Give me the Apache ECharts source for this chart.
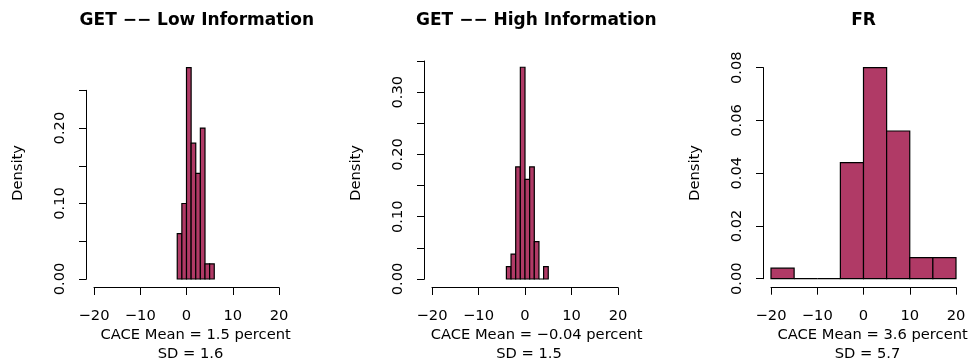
<!DOCTYPE html>
<html>
<head>
<meta charset="utf-8">
<script src="https://cdn.jsdelivr.net/npm/echarts@6/dist/echarts.min.js"></script>
<style>
html,body{margin:0;padding:0;background:#fff;}
#chart{width:970px;height:364px;}
</style>
</head>
<body>
<div id="chart"></div>
<script>
// ---- Data ----
const titles = ["GET \u2212\u2212 Low Information", "GET \u2212\u2212 High Information", "FR"];
const xlabLine1 = ["CACE Mean = 1.5 percent", "CACE Mean = \u22120.04 percent", "CACE Mean = 3.6 percent"];
const xlabLine2 = ["SD = 1.6", "SD = 1.5", "SD = 5.7"];
const ylab = "Density";
// bin edges and densities
const edgesLow = [-2, -1, 0, 1, 2, 3, 4, 5, 6];
const densLow = [0.06, 0.10, 0.28, 0.18, 0.14, 0.20, 0.02, 0.02];
const edgesHigh = [-4, -3, -2, -1, 0, 1, 2, 3, 4, 5];
const densHigh = [0.02, 0.04, 0.18, 0.34, 0.16, 0.18, 0.06, 0.00, 0.02];
const edgesFR = [-20, -15, -10, -5, 0, 5, 10, 15, 20];
const densFR = [0.004, 0.000, 0.000, 0.044, 0.080, 0.056, 0.008, 0.008];
const xMin = -20, xMax = 20, xStep = 10;
const yMaxTicks = [0.25, 0.35, 0.08];
const yIntervals = [0.05, 0.05, 0.02];
const yLabelEvery = [0.10, 0.10, 0.02];

// ---- Layout / style ----
const FONT = "'DejaVu Sans', sans-serif";
const METRIC_FONT = "'Liberation Sans', Arial, sans-serif";
const BAR = "#B03A66";
const FS = 14.7;
const grids = [
  {left: 94, width: 185, top: 90.3, height: 188.7},
  {left: 432, width: 186, top: 61, height: 218},
  {left: 771, width: 185, top: 67.7, height: 211}
];

const ctx = document.createElement('canvas').getContext('2d');
function metricWidth(text, font) { ctx.font = font; return ctx.measureText(text).width; }

function binData(edges, dens) {
  return dens.map((d, i) => [edges[i], edges[i + 1], d]);
}
const datasets = [binData(edgesLow, densLow), binData(edgesHigh, densHigh), binData(edgesFR, densFR)];

function fmtMinus(v) { return String(v).replace('-', '\u2212'); }

const graphics = [];
grids.forEach((g, i) => {
  const cx = g.left + g.width / 2;
  const tw = metricWidth(titles[i], 'bold 18.5px ' + METRIC_FONT);
  graphics.push({type: 'text', x: cx - tw / 2, y: 20.7,
    style: {text: titles[i], font: 'bold 17px ' + FONT, fill: '#000', align: 'left', verticalAlign: 'middle'}});
  const w1 = metricWidth(xlabLine1[i], FS + 'px ' + METRIC_FONT);
  graphics.push({type: 'text', x: cx - w1 / 2, y: 335,
    style: {text: xlabLine1[i], font: FS + 'px ' + FONT, fill: '#000', align: 'left', verticalAlign: 'middle'}});
  const w2 = metricWidth(xlabLine2[i], FS + 'px ' + METRIC_FONT);
  graphics.push({type: 'text', x: cx - w2 / 2, y: 354,
    style: {text: xlabLine2[i], font: FS + 'px ' + FONT, fill: '#000', align: 'left', verticalAlign: 'middle'}});
  graphics.push({type: 'text', x: g.left - 76, y: 173, rotation: Math.PI / 2,
    style: {text: ylab, font: FS + 'px ' + FONT, fill: '#000', align: 'center', verticalAlign: 'middle'}});
});

const option = {
  animation: false,
  backgroundColor: '#fff',
  grid: grids.map(g => ({left: g.left, top: g.top, width: g.width, height: g.height, containLabel: false})),
  xAxis: grids.map((g, i) => ({
    gridIndex: i,
    type: 'value',
    min: xMin, max: xMax, interval: xStep,
    offset: 8.5,
    splitLine: {show: false},
    axisLine: {show: true, onZero: false, lineStyle: {color: '#000', width: 1}},
    axisTick: {show: true, length: 7.5, lineStyle: {color: '#000', width: 1}},
    axisLabel: {color: '#000', fontFamily: FONT, fontSize: FS, margin: 21, formatter: v => fmtMinus(v)}
  })),
  yAxis: grids.map((g, i) => ({
    gridIndex: i,
    type: 'value',
    min: 0, max: yMaxTicks[i], interval: yIntervals[i],
    offset: 7.5,
    splitLine: {show: false},
    axisLine: {show: true, onZero: false, lineStyle: {color: '#000', width: 1}},
    axisTick: {show: true, length: 7.5, lineStyle: {color: '#000', width: 1}},
    axisLabel: {
      color: '#000', fontFamily: FONT, fontSize: FS, rotate: 90, margin: 19,
      formatter: v => {
        const k = v / yLabelEvery[i];
        if (Math.abs(k - Math.round(k)) > 1e-6) return '';
        return v.toFixed(2);
      }
    }
  })),
  graphic: graphics,
  series: datasets.map((data, i) => ({
    type: 'custom',
    xAxisIndex: i,
    yAxisIndex: i,
    clip: false,
    data: data,
    encode: {x: [0, 1], y: 2},
    renderItem: function (params, api) {
      const p0 = api.coord([api.value(0), api.value(2)]);
      const p1 = api.coord([api.value(1), 0]);
      return {
        type: 'rect',
        shape: {x: p0[0], y: p0[1], width: p1[0] - p0[0], height: p1[1] - p0[1]},
        style: {fill: BAR, stroke: '#000', lineWidth: 1.2}
      };
    }
  }))
};

const chart = echarts.init(document.getElementById('chart'), null, {renderer: 'canvas'});
chart.setOption(option);
</script>
</body>
</html>
